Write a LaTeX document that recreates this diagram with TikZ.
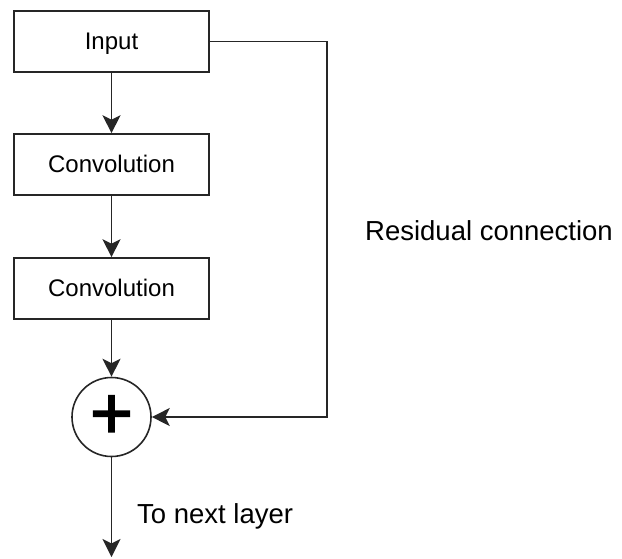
\documentclass[tikz,border=0pt]{standalone}
\usepackage{fontspec}
\setmainfont{Liberation Sans}
\newfontfamily\plusfont[FakeBold=2]{Liberation Sans}
\usetikzlibrary{arrows.meta}
\begin{document}
\begin{tikzpicture}[x=1pt,y=-1pt,
  ink/.style={draw=black!85, line width=1.6pt},
  block/.style={ink, minimum width=195pt, minimum height=61pt,
    inner sep=0pt, text height=17.2pt, text depth=2pt, font=\fontsize{24}{28}\selectfont},
  conn/.style={ink, -{Stealth[length=18pt,width=18pt,inset=4.5pt]}},
  caption/.style={font=\fontsize{27.5}{32}\selectfont, inner sep=0pt, anchor=base west}]
\useasboundingbox (0,0) rectangle (622,558);
% main path of the residual block
\node[block] (in) at (111.5,41.5) {Input};
\node[block] (c1) at (111.5,164.5) {Convolution};
\node[block] (c2) at (111.5,288.5) {Convolution};
\node[circle, ink, minimum size=79pt, inner sep=0pt] (sum) at (111.5,417) {};
\node[font=\plusfont\fontsize{74}{74}\selectfont, inner sep=0pt] (plus) at (sum.center) {+};
\coordinate (out) at (111.5,557);
\coordinate (rc) at (327,0);
\draw[conn] (in) -- (c1);
\draw[conn] (c1) -- (c2);
\draw[conn] (c2) -- (sum);
\draw[conn] (sum) -- (out);
% skip connection around the convolutions
\draw[conn] (in.east) -- (in.east -| rc) -- (rc |- sum.east) -- (sum.east);
\node[caption] (res) at (365,240) {Residual connection};
\node[caption] (next) at (137,523) {To next layer};
\end{tikzpicture}
\end{document}
